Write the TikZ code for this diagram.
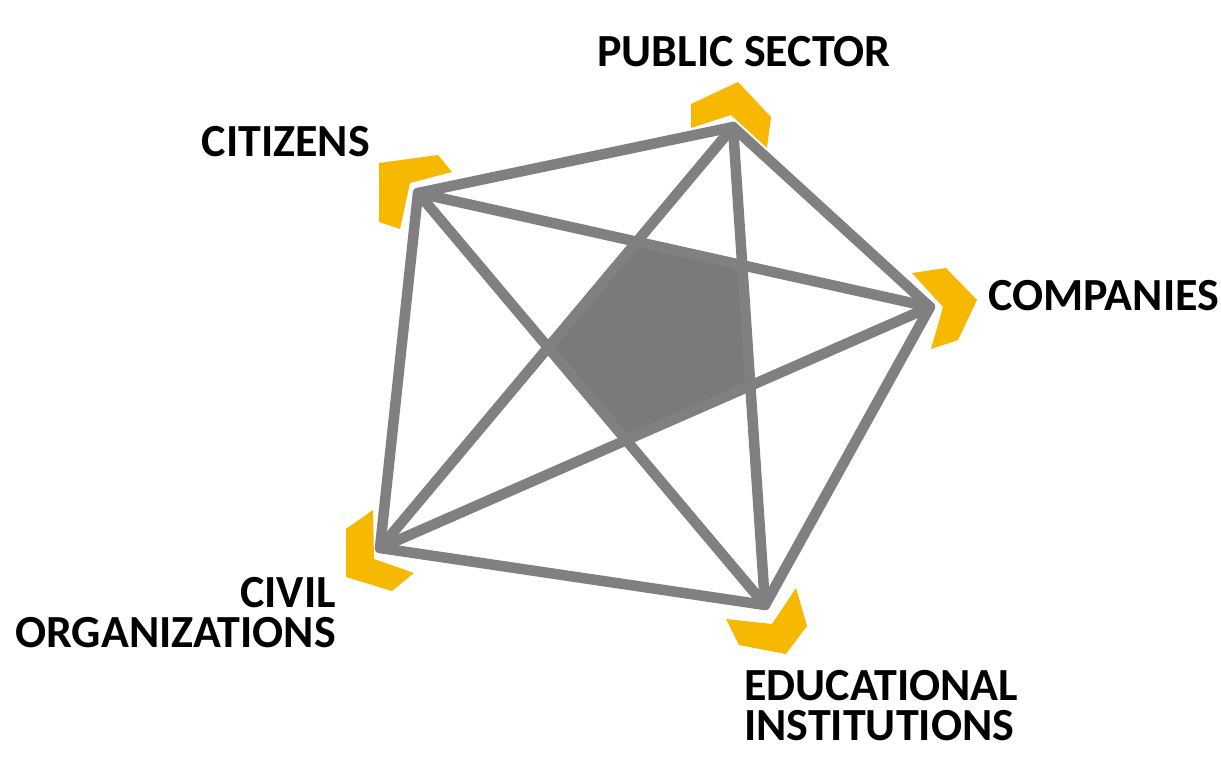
\documentclass[tikz,border=0pt]{standalone}
\usepackage{fontspec}
\setmainfont{Carlito}
\usetikzlibrary{calc}
\definecolor{edgegray}{RGB}{128,128,130}
\definecolor{coregray}{RGB}{122,122,122}
\definecolor{chevyellow}{RGB}{246,184,0}
\tikzset{
  edge/.style={draw=edgegray, line width=10.5pt, line cap=round, line join=round},
  chev/.style={fill=chevyellow, draw=none},
  lbl/.style={font=\fontsize{46}{41}\selectfont\bfseries, text=black, inner sep=0pt}
}
\begin{document}
\begin{tikzpicture}[x=1pt,y=-1pt]
\useasboundingbox (0,0) rectangle (1221,781);
\fill[white] (0,0) rectangle (1221,781);
% vertices
\coordinate (C) at (418,193);
\coordinate (P) at (733,127);
\coordinate (K) at (930,307);
\coordinate (E) at (765,605);
\coordinate (V) at (380,548);
% chevrons
\fill[chev] (379,163) -- (438,155) -- (452,172) -- (410,183) -- (400,229) -- (379,222) -- cycle;
\fill[chev] (691,104) -- (738,82) -- (771,117) -- (767,148) -- (731,115) -- (691,128) -- cycle;
\fill[chev] (912,273) -- (946,268) -- (977,300) -- (958,340) -- (931,349) -- (943,307) -- cycle;
\fill[chev] (373,510) -- (346,529) -- (346,577) -- (392,591) -- (414,573) -- (374,559) -- cycle;
\fill[chev] (796,588) -- (807,626) -- (786,654) -- (739,645) -- (726,619) -- (772,624) -- cycle;
% central pentagon
\fill[coregray] (intersection of C--K and P--V) -- (intersection of C--K and P--E)
  -- (intersection of P--E and K--V) -- (intersection of K--V and C--E)
  -- (intersection of C--E and P--V) -- cycle;
% edges
\draw[edge] (C) -- (P);
\draw[edge] (P) -- (K);
\draw[edge] (K) -- (E);
\draw[edge] (E) -- (V);
\draw[edge] (V) -- (C);
\draw[edge] (C) -- (K);
\draw[edge] (C) -- (E);
\draw[edge] (P) -- (E);
\draw[edge] (P) -- (V);
\draw[edge] (K) -- (V);
% labels
\node[lbl, anchor=base] (lp) at (744,67) {PUBLIC SECTOR};
\node[lbl, anchor=base east] (lc) at (370,157) {CITIZENS};
\node[lbl, anchor=base west] (lk) at (988,310) {COMPANIES};
\node[lbl, anchor=base east] (lv1) at (336,607) {CIVIL};
\node[lbl, anchor=base east] (lv2) at (336,647) {ORGANIZATIONS};
\node[lbl, anchor=base west] (le1) at (744,700) {EDUCATIONAL};
\node[lbl, anchor=base west] (le2) at (744,740) {INSTITUTIONS};
\end{tikzpicture}
\end{document}
